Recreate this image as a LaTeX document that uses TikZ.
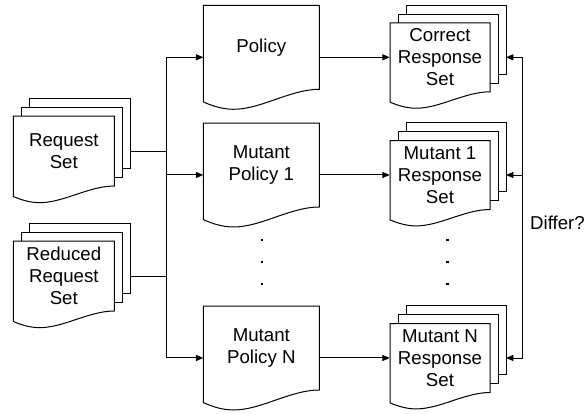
\documentclass[tikz,border=0pt]{standalone}
\usepackage{fontspec}
\setmainfont{Liberation Sans}
\usetikzlibrary{arrows.meta,calc}

% offsets of the sheets stacked behind a front sheet
\def\dx{8}
\def\dy{8.8}
\def\pxu{0.75pt}

% document sheet with a wavy lower edge: X Y w h
\newcommand\sheetwave[4]{%
  \filldraw[sheet] (#1,#2) -- ({#1+#3},#2) -- ({#1+#3},{#2+#4})
    .. controls ({#1+0.75*#3},{#2+#4}) and ({#1+0.5*#3},{#2+1.238*#4}) .. ({#1+0.26*#3},{#2+1.238*#4})
    .. controls ({#1+0.17*#3},{#2+1.238*#4}) and ({#1+0.08*#3},{#2+1.2*#4}) .. (#1,{#2+1.15*#4}) -- cycle;}

% single document: name X Y w h text
\newcommand\singledoc[6]{%
  \sheetwave{#2}{#3}{#4}{#5}
  \node[doctext, minimum width=#4*\pxu, minimum height=#5*\pxu] (#1) at ({#2+#4/2},{#3+#5/2}) {#6};
  \coordinate (#1-in) at (#2,{#3+0.619*#5});
  \coordinate (#1-out) at ({#2+#4},{#3+0.619*#5});}

% stack of three documents: name X Y w h text (X Y w h of the front sheet)
\newcommand\docstack[6]{%
  \filldraw[sheet] ({#2+2*\dx},{#3-2*\dy}) rectangle ++(#4,#5);
  \filldraw[sheet] ({#2+\dx},{#3-\dy}) rectangle ++(#4,#5);
  \sheetwave{#2}{#3}{#4}{#5}
  \node[doctext, minimum width=#4*\pxu, minimum height=#5*\pxu] (#1) at ({#2+#4/2},{#3+#5/2}) {#6};
  \coordinate (#1-rim) at ({#2+#4+2*\dx},{#3+#5/2});}

\tikzset{
  sheet/.style={draw=black, fill=white, line width=0.75pt},
  doctext/.style={inner sep=0pt, align=center, font=\fontsize{14pt}{16.3pt}\selectfont},
  conn/.style={draw=black, line width=0.75pt},
  arr/.style={conn, -{Triangle[length=5.5pt,width=4.5pt]}},
}

\begin{document}
\begin{tikzpicture}[x=\pxu, y=-\pxu]
\useasboundingbox (0,0) rectangle (587,414);

% inputs
\docstack{req}{13.3}{116}{101}{70}{Request\\Set}
\docstack{red}{13.3}{241}{101}{70}{Reduced\\Request\\Set}

% policies
\singledoc{pol}{203.3}{5.3}{116}{84}{Policy}
\singledoc{polone}{203.3}{123}{116}{84}{Mutant\\Policy 1}
\singledoc{poln}{203.3}{306}{116}{84}{Mutant\\Policy N}

% responses
\docstack{cr}{390}{22.8}{100}{69}{Correct\\Response\\Set}
\docstack{mr}{390}{140.5}{100}{69}{Mutant 1\\Response\\Set}
\docstack{nr}{390}{323.5}{100}{69}{Mutant N\\Response\\Set}

% elided rows
\foreach \yy in {240,262,284} {
  \fill (262,\yy) ++(-1.4,-1.4) rectangle ++(2.8,2.8);
  \fill (447.7,\yy) ++(-1.4,-1.4) rectangle ++(2.8,2.8);
}

% distribution bus on the left
\coordinate (busx) at (166.7,0);
\draw[conn] (req-rim) -- (req-rim -| busx);
\draw[conn] (red-rim) -- (red-rim -| busx);
\draw[conn] (pol-in -| busx) -- (poln-in -| busx);
\foreach \p in {pol,polone,poln}
  \draw[arr] (\p-in -| busx) -- (\p-in);

% policy outputs
\draw[arr] (pol-out) -- (pol-out -| cr.west);
\draw[arr] (polone-out) -- (polone-out -| mr.west);
\draw[arr] (poln-out) -- (poln-out -| nr.west);

% comparison rail on the right
\coordinate (railx) at (522.7,0);
\draw[conn] (cr-rim -| railx) -- (nr-rim -| railx);
\foreach \r in {cr,mr,nr}
  \draw[arr] (\r-rim -| railx) -- (\r-rim);
\node[doctext] (differ) at (557.5,223) {Differ?};
\end{tikzpicture}
\end{document}
